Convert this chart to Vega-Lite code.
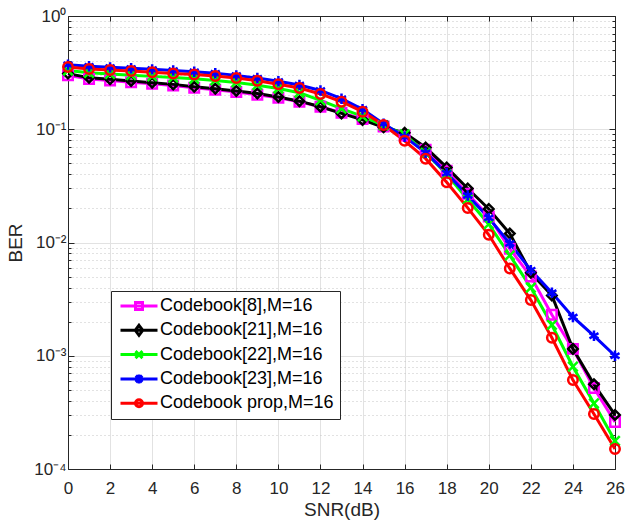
{
"$schema": "https://vega.github.io/schema/vega-lite/v6.json",
"width": 547, "height": 453,
"autosize": {"type": "none"},
"padding": {"left": 68, "top": 16, "right": 10, "bottom": 51},
"background": "white",
"config": {"view": {"stroke": null}, "font": "Liberation Sans"},
"datasets": {"d": [
{"snr":0,"ber":0.3,"series":"Codebook[8],M=16"},{"snr":1,"ber":0.278,"series":"Codebook[8],M=16"},{"snr":2,"ber":0.27,"series":"Codebook[8],M=16"},{"snr":3,"ber":0.26,"series":"Codebook[8],M=16"},{"snr":4,"ber":0.252,"series":"Codebook[8],M=16"},{"snr":5,"ber":0.243,"series":"Codebook[8],M=16"},{"snr":6,"ber":0.232,"series":"Codebook[8],M=16"},{"snr":7,"ber":0.223,"series":"Codebook[8],M=16"},{"snr":8,"ber":0.213,"series":"Codebook[8],M=16"},{"snr":9,"ber":0.202,"series":"Codebook[8],M=16"},{"snr":10,"ber":0.19,"series":"Codebook[8],M=16"},{"snr":11,"ber":0.175,"series":"Codebook[8],M=16"},{"snr":12,"ber":0.158,"series":"Codebook[8],M=16"},{"snr":13,"ber":0.14,"series":"Codebook[8],M=16"},{"snr":14,"ber":0.123,"series":"Codebook[8],M=16"},{"snr":15,"ber":0.106,"series":"Codebook[8],M=16"},{"snr":16,"ber":0.088,"series":"Codebook[8],M=16"},{"snr":17,"ber":0.066,"series":"Codebook[8],M=16"},{"snr":18,"ber":0.043,"series":"Codebook[8],M=16"},{"snr":19,"ber":0.027,"series":"Codebook[8],M=16"},{"snr":20,"ber":0.017,"series":"Codebook[8],M=16"},{"snr":21,"ber":0.0088,"series":"Codebook[8],M=16"},{"snr":22,"ber":0.005,"series":"Codebook[8],M=16"},{"snr":23,"ber":0.0023,"series":"Codebook[8],M=16"},{"snr":24,"ber":0.00115,"series":"Codebook[8],M=16"},{"snr":25,"ber":0.00052,"series":"Codebook[8],M=16"},{"snr":26,"ber":0.00026,"series":"Codebook[8],M=16"},
{"snr":0,"ber":0.31,"series":"Codebook[21],M=16"},{"snr":1,"ber":0.285,"series":"Codebook[21],M=16"},{"snr":2,"ber":0.276,"series":"Codebook[21],M=16"},{"snr":3,"ber":0.267,"series":"Codebook[21],M=16"},{"snr":4,"ber":0.258,"series":"Codebook[21],M=16"},{"snr":5,"ber":0.249,"series":"Codebook[21],M=16"},{"snr":6,"ber":0.237,"series":"Codebook[21],M=16"},{"snr":7,"ber":0.228,"series":"Codebook[21],M=16"},{"snr":8,"ber":0.218,"series":"Codebook[21],M=16"},{"snr":9,"ber":0.207,"series":"Codebook[21],M=16"},{"snr":10,"ber":0.193,"series":"Codebook[21],M=16"},{"snr":11,"ber":0.177,"series":"Codebook[21],M=16"},{"snr":12,"ber":0.158,"series":"Codebook[21],M=16"},{"snr":13,"ber":0.138,"series":"Codebook[21],M=16"},{"snr":14,"ber":0.121,"series":"Codebook[21],M=16"},{"snr":15,"ber":0.104,"series":"Codebook[21],M=16"},{"snr":16,"ber":0.093,"series":"Codebook[21],M=16"},{"snr":17,"ber":0.069,"series":"Codebook[21],M=16"},{"snr":18,"ber":0.046,"series":"Codebook[21],M=16"},{"snr":19,"ber":0.03,"series":"Codebook[21],M=16"},{"snr":20,"ber":0.0198,"series":"Codebook[21],M=16"},{"snr":21,"ber":0.012,"series":"Codebook[21],M=16"},{"snr":22,"ber":0.0054,"series":"Codebook[21],M=16"},{"snr":23,"ber":0.0034,"series":"Codebook[21],M=16"},{"snr":24,"ber":0.00115,"series":"Codebook[21],M=16"},{"snr":25,"ber":0.00056,"series":"Codebook[21],M=16"},{"snr":26,"ber":0.0003,"series":"Codebook[21],M=16"},
{"snr":0,"ber":0.33,"series":"Codebook[22],M=16"},{"snr":1,"ber":0.315,"series":"Codebook[22],M=16"},{"snr":2,"ber":0.308,"series":"Codebook[22],M=16"},{"snr":3,"ber":0.3,"series":"Codebook[22],M=16"},{"snr":4,"ber":0.293,"series":"Codebook[22],M=16"},{"snr":5,"ber":0.286,"series":"Codebook[22],M=16"},{"snr":6,"ber":0.279,"series":"Codebook[22],M=16"},{"snr":7,"ber":0.27,"series":"Codebook[22],M=16"},{"snr":8,"ber":0.259,"series":"Codebook[22],M=16"},{"snr":9,"ber":0.245,"series":"Codebook[22],M=16"},{"snr":10,"ber":0.229,"series":"Codebook[22],M=16"},{"snr":11,"ber":0.21,"series":"Codebook[22],M=16"},{"snr":12,"ber":0.18,"series":"Codebook[22],M=16"},{"snr":13,"ber":0.152,"series":"Codebook[22],M=16"},{"snr":14,"ber":0.13,"series":"Codebook[22],M=16"},{"snr":15,"ber":0.108,"series":"Codebook[22],M=16"},{"snr":16,"ber":0.09,"series":"Codebook[22],M=16"},{"snr":17,"ber":0.062,"series":"Codebook[22],M=16"},{"snr":18,"ber":0.04,"series":"Codebook[22],M=16"},{"snr":19,"ber":0.024,"series":"Codebook[22],M=16"},{"snr":20,"ber":0.0145,"series":"Codebook[22],M=16"},{"snr":21,"ber":0.0077,"series":"Codebook[22],M=16"},{"snr":22,"ber":0.004,"series":"Codebook[22],M=16"},{"snr":23,"ber":0.00187,"series":"Codebook[22],M=16"},{"snr":24,"ber":0.0008,"series":"Codebook[22],M=16"},{"snr":25,"ber":0.00038,"series":"Codebook[22],M=16"},{"snr":26,"ber":0.000177,"series":"Codebook[22],M=16"},
{"snr":0,"ber":0.372,"series":"Codebook[23],M=16"},{"snr":1,"ber":0.36,"series":"Codebook[23],M=16"},{"snr":2,"ber":0.352,"series":"Codebook[23],M=16"},{"snr":3,"ber":0.345,"series":"Codebook[23],M=16"},{"snr":4,"ber":0.338,"series":"Codebook[23],M=16"},{"snr":5,"ber":0.33,"series":"Codebook[23],M=16"},{"snr":6,"ber":0.322,"series":"Codebook[23],M=16"},{"snr":7,"ber":0.312,"series":"Codebook[23],M=16"},{"snr":8,"ber":0.299,"series":"Codebook[23],M=16"},{"snr":9,"ber":0.283,"series":"Codebook[23],M=16"},{"snr":10,"ber":0.265,"series":"Codebook[23],M=16"},{"snr":11,"ber":0.246,"series":"Codebook[23],M=16"},{"snr":12,"ber":0.22,"series":"Codebook[23],M=16"},{"snr":13,"ber":0.186,"series":"Codebook[23],M=16"},{"snr":14,"ber":0.15,"series":"Codebook[23],M=16"},{"snr":15,"ber":0.112,"series":"Codebook[23],M=16"},{"snr":16,"ber":0.086,"series":"Codebook[23],M=16"},{"snr":17,"ber":0.062,"series":"Codebook[23],M=16"},{"snr":18,"ber":0.041,"series":"Codebook[23],M=16"},{"snr":19,"ber":0.026,"series":"Codebook[23],M=16"},{"snr":20,"ber":0.0165,"series":"Codebook[23],M=16"},{"snr":21,"ber":0.0098,"series":"Codebook[23],M=16"},{"snr":22,"ber":0.0057,"series":"Codebook[23],M=16"},{"snr":23,"ber":0.0036,"series":"Codebook[23],M=16"},{"snr":24,"ber":0.0022,"series":"Codebook[23],M=16"},{"snr":25,"ber":0.0015,"series":"Codebook[23],M=16"},{"snr":26,"ber":0.001,"series":"Codebook[23],M=16"},
{"snr":0,"ber":0.355,"series":"Codebook prop,M=16"},{"snr":1,"ber":0.34,"series":"Codebook prop,M=16"},{"snr":2,"ber":0.333,"series":"Codebook prop,M=16"},{"snr":3,"ber":0.327,"series":"Codebook prop,M=16"},{"snr":4,"ber":0.318,"series":"Codebook prop,M=16"},{"snr":5,"ber":0.311,"series":"Codebook prop,M=16"},{"snr":6,"ber":0.304,"series":"Codebook prop,M=16"},{"snr":7,"ber":0.295,"series":"Codebook prop,M=16"},{"snr":8,"ber":0.283,"series":"Codebook prop,M=16"},{"snr":9,"ber":0.268,"series":"Codebook prop,M=16"},{"snr":10,"ber":0.25,"series":"Codebook prop,M=16"},{"snr":11,"ber":0.231,"series":"Codebook prop,M=16"},{"snr":12,"ber":0.205,"series":"Codebook prop,M=16"},{"snr":13,"ber":0.175,"series":"Codebook prop,M=16"},{"snr":14,"ber":0.143,"series":"Codebook prop,M=16"},{"snr":15,"ber":0.109,"series":"Codebook prop,M=16"},{"snr":16,"ber":0.079,"series":"Codebook prop,M=16"},{"snr":17,"ber":0.055,"series":"Codebook prop,M=16"},{"snr":18,"ber":0.034,"series":"Codebook prop,M=16"},{"snr":19,"ber":0.0202,"series":"Codebook prop,M=16"},{"snr":20,"ber":0.0117,"series":"Codebook prop,M=16"},{"snr":21,"ber":0.0059,"series":"Codebook prop,M=16"},{"snr":22,"ber":0.0031,"series":"Codebook prop,M=16"},{"snr":23,"ber":0.00144,"series":"Codebook prop,M=16"},{"snr":24,"ber":0.00061,"series":"Codebook prop,M=16"},{"snr":25,"ber":0.000306,"series":"Codebook prop,M=16"},{"snr":26,"ber":0.00015,"series":"Codebook prop,M=16"}
]},
"data": {"name": "d"},
"layer": [
{
"mark": {"type": "line", "strokeWidth": 3},
"encoding": {
"x": {"field": "snr", "type": "quantitative", "scale": {"domain": [0, 26], "nice": false, "zero": false},
 "axis": {"orient": "bottom", "values": [0,2,4,6,8,10,12,14,16,18,20,22,24,26], "grid": true, "gridColor": "#e2e2e2", "gridWidth": 1,
  "tickSize": -5, "tickColor": "#262626", "domainColor": "#262626", "labelColor": "#262626", "labelFontSize": 17, "labelFont": "Liberation Sans", "labelFlush": false, "labelPadding": 16,
  "title": "SNR(dB)", "titleFontSize": 19, "titleFont": "Liberation Sans", "titleFontWeight": "normal", "titleColor": "#262626", "titlePadding": 4}},
"y": {"field": "ber", "type": "quantitative", "scale": {"type": "log", "domain": [0.0001, 1], "nice": false},
 "axis": {"orient": "left", "values": [0.0001,0.0002,0.0003,0.0004,0.0005,0.0006,0.0007,0.0008,0.0009,0.001,0.002,0.003,0.004,0.005,0.006,0.007,0.008,0.009,0.01,0.02,0.03,0.04,0.05,0.06,0.07,0.08,0.09,0.1,0.2,0.3,0.4,0.5,0.6,0.7,0.8,0.9,1],
  "grid": true,
  "gridColor": {"condition": {"test": "abs(log(datum.value)/LN10 - round(log(datum.value)/LN10)) < 0.001", "value": "#e2e2e2"}, "value": "#c4c4c4"},
  "gridDash": {"condition": {"test": "abs(log(datum.value)/LN10 - round(log(datum.value)/LN10)) < 0.001", "value": []}, "value": [1, 3]},
  "tickSize": {"condition": {"test": "abs(log(datum.value)/LN10 - round(log(datum.value)/LN10)) < 0.001", "value": -6}, "value": -3},
  "tickColor": "#262626", "domainColor": "#262626", "labelColor": "#262626", "labelFontSize": 17, "labelFont": "Liberation Sans", "labelOverlap": false, "labelPadding": 8,
  "labelExpr": "abs(datum.value-1)<1e-9 ? '10⁰' : abs(datum.value-0.1)<1e-9 ? '10⁻¹' : abs(datum.value-0.01)<1e-9 ? '10⁻²' : abs(datum.value-0.001)<1e-9 ? '10⁻³' : abs(datum.value-0.0001)<1e-10 ? '10⁻⁴' : ''",
  "title": "BER", "titleFontSize": 19, "titleFont": "Liberation Sans", "titleFontWeight": "normal", "titleColor": "#262626", "titlePadding": 8}},
"color": {"field": "series", "type": "nominal",
 "scale": {"domain": ["Codebook[8],M=16","Codebook[21],M=16","Codebook[22],M=16","Codebook[23],M=16","Codebook prop,M=16"], "range": ["#ff00ff","#000000","#00ff00","#0000ff","#ff0000"]},
 "legend": {"orient": "none", "legendX": 43, "legendY": 275, "title": null, "fillColor": "white", "strokeColor": "#262626", "padding": 6,
  "labelFontSize": 18, "labelFont": "Liberation Sans", "labelColor": "black", "labelLimit": 400, "symbolSize": 100, "symbolStrokeWidth": 3, "symbolOffset": 13, "labelOffset": 12, "rowPadding": 3.3, "symbolFillColor": "transparent",
  "symbolType": {"expr": "datum.value==='Codebook[8],M=16'?'M-3.7,0L3.7,0M-0.7,-0.7L0.7,-0.7L0.7,0.7L-0.7,0.7Z':datum.value==='Codebook[21],M=16'?'M-3.7,0L3.7,0M0,-1L0.75,0L0,1L-0.75,0Z':datum.value==='Codebook[22],M=16'?'M-3.7,0L3.7,0M-0.7,-0.7L0.7,0.7M-0.7,0.7L0.7,-0.7':datum.value==='Codebook[23],M=16'?'M-3.7,0L3.7,0M0,-0.9L0,0.9M-0.65,-0.65L0.65,0.65M-0.65,0.65L0.65,-0.65':'M-3.7,0L3.7,0M-0.7,0A0.7,0.7,0,1,0,0.7,0A0.7,0.7,0,1,0,-0.7,0'"}}}
}
},
{
"mark": {"type": "point", "filled": false, "size": 90, "strokeWidth": 2.5, "opacity": 1},
"encoding": {
"x": {"field": "snr", "type": "quantitative", "scale": {"domain": [0, 26], "nice": false, "zero": false},
 "axis": {"orient": "top", "values": [0,2,4,6,8,10,12,14,16,18,20,22,24,26], "grid": false, "labels": false, "tickSize": -5, "tickColor": "#262626", "domainColor": "#262626", "title": null}},
"y": {"field": "ber", "type": "quantitative", "scale": {"type": "log", "domain": [0.0001, 1], "nice": false},
 "axis": {"orient": "right", "values": [0.0001,0.0002,0.0003,0.0004,0.0005,0.0006,0.0007,0.0008,0.0009,0.001,0.002,0.003,0.004,0.005,0.006,0.007,0.008,0.009,0.01,0.02,0.03,0.04,0.05,0.06,0.07,0.08,0.09,0.1,0.2,0.3,0.4,0.5,0.6,0.7,0.8,0.9,1],
  "grid": false, "labels": false, "title": null,
  "tickSize": {"condition": {"test": "abs(log(datum.value)/LN10 - round(log(datum.value)/LN10)) < 0.001", "value": -6}, "value": -3},
  "tickColor": "#262626", "domainColor": "#262626"}},
"color": {"field": "series", "type": "nominal",
 "scale": {"domain": ["Codebook[8],M=16","Codebook[21],M=16","Codebook[22],M=16","Codebook[23],M=16","Codebook prop,M=16"], "range": ["#ff00ff","#000000","#00ff00","#0000ff","#ff0000"]}, "legend": null},
"shape": {"field": "series", "type": "nominal",
 "scale": {"domain": ["Codebook prop,M=16","Codebook[23],M=16","Codebook[22],M=16","Codebook[21],M=16","Codebook[8],M=16"],
  "range": ["circle", "M0,-1.1L0,1.1M-0.95,-0.55L0.95,0.55M-0.95,0.55L0.95,-0.55", "M-1,-1L1,1M-1,1L1,-1", "diamond", "square"]},
 "legend": null}
}
}
],
"resolve": {"axis": {"x": "independent", "y": "independent"}}
}
